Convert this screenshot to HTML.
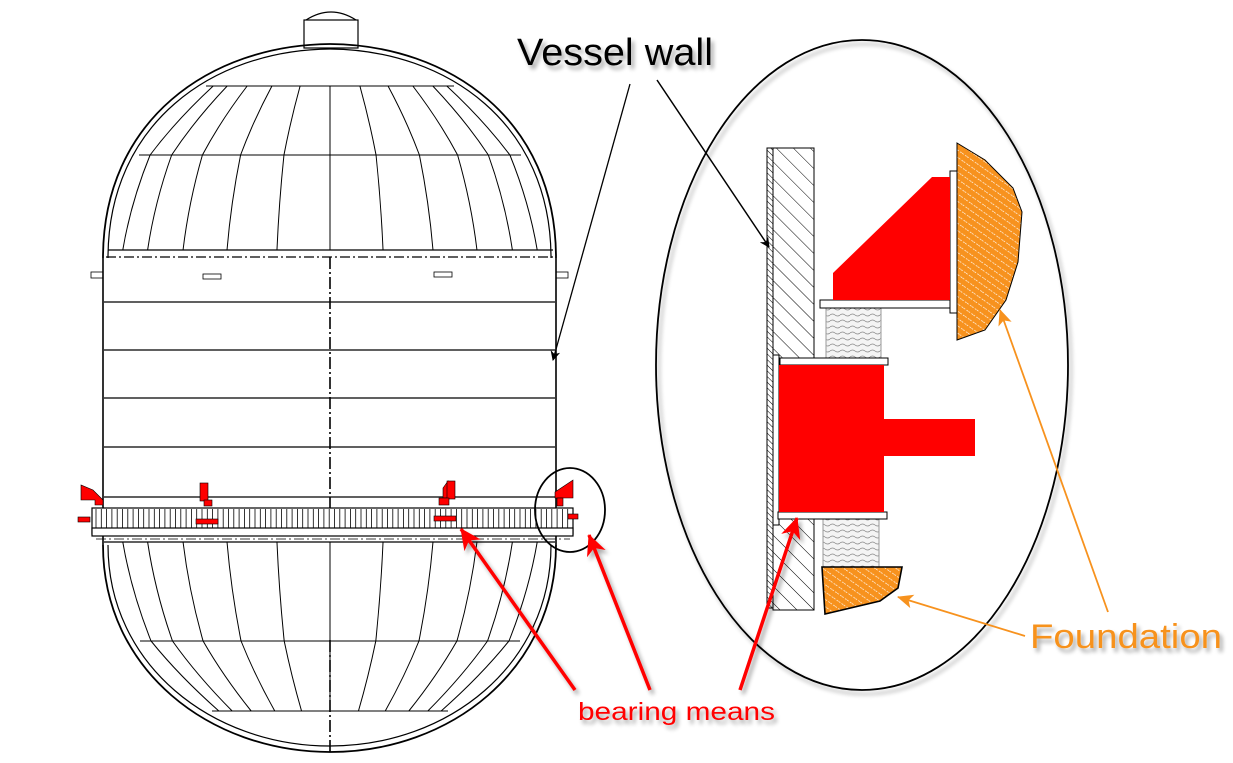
<!DOCTYPE html>
<html><head><meta charset="utf-8"><style>
html,body{margin:0;padding:0;background:#fff;}
svg{display:block;}
text{font-family:"Liberation Sans",Arial,sans-serif;}
</style></head><body>
<svg id="s" width="1233" height="763" viewBox="0 0 1233 763" xmlns="http://www.w3.org/2000/svg">
<defs>
<pattern id="hatch" width="12" height="12" patternUnits="userSpaceOnUse" patternTransform="rotate(-45)">
<line x1="0" y1="0" x2="0" y2="12" stroke="#000" stroke-width="1"/></pattern>
<pattern id="hatchf" width="4" height="4" patternUnits="userSpaceOnUse" patternTransform="rotate(-45)">
<line x1="0" y1="0" x2="0" y2="4" stroke="#000" stroke-width="1"/></pattern>
<pattern id="orng" width="6" height="6" patternUnits="userSpaceOnUse" patternTransform="rotate(-55)">
<rect width="6" height="6" fill="#f7921e"/><line x1="0" y1="0" x2="0" y2="6" stroke="#fff" stroke-width="1.3" stroke-dasharray="2 1.5"/></pattern>
<pattern id="spring" width="10" height="6" patternUnits="userSpaceOnUse">
<rect width="10" height="6" fill="#f4f4f4"/><path d="M0 3 Q2.5 1 5 3 T10 3" stroke="#888" fill="none" stroke-width="0.7"/></pattern>
<marker id="ab" markerWidth="10" markerHeight="10" refX="9" refY="5" orient="auto" markerUnits="userSpaceOnUse"><path d="M0 0 L10 5 L0 10 L3 5Z" fill="#000"/></marker>
<marker id="ar" markerWidth="22" markerHeight="22" refX="20" refY="11" orient="auto" markerUnits="userSpaceOnUse"><path d="M0 1 L21 11 L0 21 L6 11Z" fill="#f00"/></marker>
<marker id="ao" markerWidth="16" markerHeight="16" refX="15" refY="8" orient="auto" markerUnits="userSpaceOnUse"><path d="M0 1 L16 8 L0 15 L4 8Z" fill="#f7921e"/></marker>
<filter id="sh" x="-10%" y="-10%" width="130%" height="140%"><feGaussianBlur in="SourceAlpha" stdDeviation="2"/><feOffset dx="3" dy="4"/><feComponentTransfer><feFuncA type="linear" slope="0.35"/></feComponentTransfer><feMerge><feMergeNode/><feMergeNode in="SourceGraphic"/></feMerge></filter>
</defs>
<g id="vessel" stroke="#000" fill="none" stroke-width="1.2">
<rect x="304" y="20" width="54" height="28" fill="#fff"/>
<path d="M306 20 Q331 4 356 20"/>
<path d="M103 258 C103 120 210 45 330 44 C450 45 556 120 556 258" stroke-width="1.8"/>
<path d="M108 258 C108 124 212 50 330 49 C448 50 551 124 551 258"/>
<line x1="103" y1="258" x2="103" y2="545" stroke-width="1.6"/>
<line x1="556" y1="258" x2="556" y2="545" stroke-width="1.6"/>
<line x1="108" y1="250" x2="553" y2="250"/>
<line x1="106" y1="257" x2="553" y2="257" stroke-dasharray="10 3 2 3"/>
<line x1="104" y1="302" x2="555" y2="302"/>
<line x1="104" y1="350" x2="555" y2="350"/>
<line x1="104" y1="398" x2="555" y2="398"/>
<line x1="104" y1="447" x2="555" y2="447"/>
<line x1="104" y1="497" x2="555" y2="497"/>
<line x1="330" y1="257" x2="330" y2="508" stroke-dasharray="12 3 2 3" stroke-width="1.6"/>
<path d="M103 545 C103 670 210 752 330 752 C450 752 556 670 556 545" stroke-width="1.8"/>
<path d="M108 545 C108 665 212 746 330 746 C448 746 551 665 551 545"/>
<line x1="104" y1="542" x2="555" y2="542"/>
<line x1="330" y1="640" x2="330" y2="752" stroke-dasharray="12 3 2 3" stroke-width="1.6"/>
<rect x="92" y="508" width="481" height="26" fill="#fff"/>
<rect x="92" y="528" width="481" height="8" fill="#fff"/>
<line x1="96" y1="539" x2="570" y2="539" stroke-dasharray="10 3 2 3" stroke-width="0.8"/>
<g id="ticks" stroke-width="0.8"></g>
<g id="mer" stroke-width="1"></g>
<rect x="91" y="272" width="12" height="6" stroke-width="0.8"/>
<rect x="556" y="272" width="12" height="6" stroke-width="0.8"/>
<rect x="203" y="274" width="18" height="5" stroke-width="0.8"/>
<rect x="434" y="272" width="18" height="5" stroke-width="0.8"/>
</g>
<g fill="#f00" stroke="#000" stroke-width="0.6">
<path d="M81 485 L81 500 L95 500 L95 505 L103 505 L103 500 L93 490 Z"/>
<rect x="200" y="483" width="8" height="18"/><rect x="204" y="500" width="8" height="6"/>
<path d="M443 488 L448 481 L448 498 L443 498Z"/><rect x="447" y="481" width="8" height="18"/><rect x="439" y="498" width="10" height="7"/>
<path d="M555 492 L573 480 L573 498 L555 498Z"/><rect x="557" y="498" width="6" height="8"/>
<rect x="78" y="517" width="12" height="5"/><rect x="196" y="519" width="22" height="5"/><rect x="434" y="516" width="22" height="5"/><rect x="568" y="514" width="10" height="5"/>
</g>
<ellipse cx="862" cy="365" rx="206" ry="325" fill="none" stroke="#000" stroke-width="1.8" filter="url(#sh)"/>
<ellipse cx="570" cy="510" rx="35" ry="42" fill="none" stroke="#000" stroke-width="1.8"/>
<g stroke="#000" stroke-width="1">
<rect x="767" y="148" width="6" height="460" fill="url(#hatchf)"/>
<rect x="773" y="148" width="41" height="462" fill="url(#hatch)"/>
<rect x="773" y="355" width="6" height="170" fill="#fff"/>
<rect x="826" y="308" width="55" height="50" fill="url(#spring)" stroke="#999"/>
<rect x="823" y="518" width="56" height="50" fill="url(#spring)" stroke="#999"/>
<rect x="820" y="300" width="130" height="8" fill="#fff"/>
<rect x="950" y="171" width="7" height="142" fill="#fff"/>
<rect x="780" y="358" width="108" height="7" fill="#fff"/>
<rect x="778" y="512" width="109" height="7" fill="#fff"/>
</g>
<path d="M833 273 L833 300 L950 300 L950 177 L932 177 Z" fill="#f00"/>
<path d="M779 365 L884 365 L884 419 L975 419 L975 456 L884 456 L884 512 L779 512Z" fill="#f00"/>
<path d="M957 143 L985 160 L1013 188 L1022 212 L1018 262 L1006 300 L985 330 L957 340Z" fill="url(#orng)" stroke="#000" stroke-width="1"/>
<path d="M822 567 L902 567 L898 588 L880 601 L825 614Z" fill="url(#orng)" stroke="#000" stroke-width="1.6"/>
<line x1="630" y1="84" x2="553" y2="360" stroke="#000" stroke-width="1.3" marker-end="url(#ab)"/>
<line x1="657" y1="80" x2="769" y2="247" stroke="#000" stroke-width="1.5" marker-end="url(#ab)"/>
<g stroke="#f00" stroke-width="3.5" filter="url(#sh)">
<line x1="575" y1="690" x2="461" y2="529" marker-end="url(#ar)"/>
<line x1="650" y1="690" x2="589" y2="535" marker-end="url(#ar)"/>
<line x1="740" y1="690" x2="797" y2="518" marker-end="url(#ar)"/>
</g>
<g stroke="#f7921e" stroke-width="1.8">
<line x1="1108" y1="612" x2="1000" y2="310" marker-end="url(#ao)"/>
<line x1="1025" y1="636" x2="898" y2="597" marker-end="url(#ao)"/>
</g>
<g filter="url(#sh)">
<text x="517" y="65" font-size="38" fill="#000" textLength="196" lengthAdjust="spacingAndGlyphs">Vessel wall</text>
<text x="1030" y="648" font-size="34" fill="#f7921e" textLength="192" lengthAdjust="spacingAndGlyphs">Foundation</text>
<text x="578" y="720" font-size="25" fill="#f00" textLength="197" lengthAdjust="spacingAndGlyphs">bearing means</text>
</g>
</svg>
<script>
(function(){
var NS="http://www.w3.org/2000/svg";
function L(g,x1,y1,x2,y2){var l=document.createElementNS(NS,"line");l.setAttribute("x1",x1);l.setAttribute("y1",y1);l.setAttribute("x2",x2);l.setAttribute("y2",y2);g.appendChild(l);}
function P(g,d){var p=document.createElementNS(NS,"path");p.setAttribute("d",d);g.appendChild(p);}
var t=document.getElementById("ticks");
for(var x=96;x<572;x+=5.3){L(t,x,509,x,528);}
var m=document.getElementById("mer");
var cx=330;
function bands(segs,n){
 segs.forEach(function(s){
  var y1=s[0],h1=s[1],y2=s[2],h2=s[3];
  P(m,"M"+(cx-h1)+" "+y1+" L"+(cx+h1)+" "+y1);
  P(m,"M"+(cx-h2)+" "+y2+" L"+(cx+h2)+" "+y2);
  for(var i=1;i<n;i++){var u=-1+2*i/n;var a=Math.sin(u*1.45)/Math.sin(1.45);
   var xa=cx+a*h1,xb=cx+a*h2,xm=(xa+xb)/2+a*6;
   P(m,"M"+xa+" "+y1+" Q"+xm+" "+((y1+y2)/2)+" "+xb+" "+y2);}
 });
}
bands([[86,124,155,191],[155,191,250,220]],12);
bands([[542,220,641,190],[641,190,711,118]],12);
})();
</script>
</body></html>
